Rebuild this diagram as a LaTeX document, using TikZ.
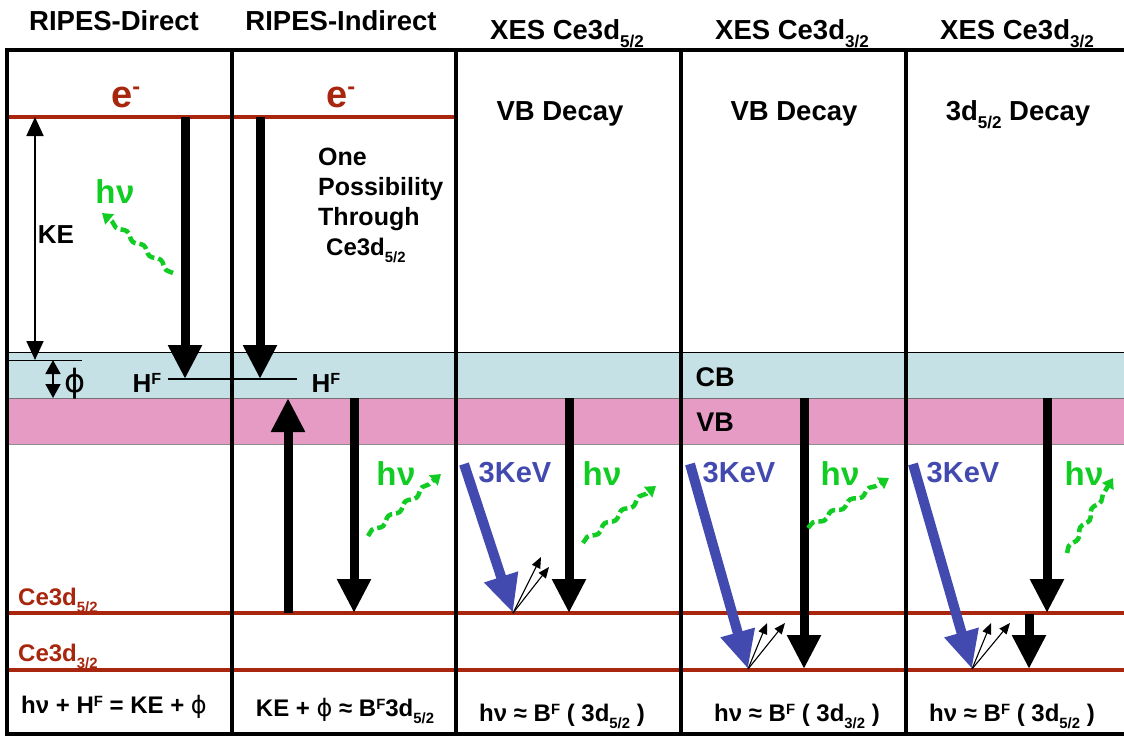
\documentclass[tikz,border=0pt]{standalone}
\usepackage{fontspec}
\setmainfont{Liberation Sans}
\newfontfamily\phifont{DejaVu Sans}
\usetikzlibrary{arrows.meta,decorations.pathmorphing}
\definecolor{lvred}{RGB}{168,38,14}
\definecolor{cbcol}{RGB}{197,225,230}
\definecolor{vbcol}{RGB}{230,155,196}
\definecolor{xblue}{RGB}{66,74,176}
\definecolor{phgreen}{RGB}{17,204,34}
\newcommand\supx[1]{\raisebox{0.27em}{\scalebox{0.62}{#1}}}
\newcommand\supe[1]{\raisebox{0.33em}{\scalebox{0.62}{#1}}}
\newcommand\subx[1]{\raisebox{-0.3em}{\scalebox{0.62}{#1}}}
\newcommand\fsz[1]{\fontsize{#1}{#1}\selectfont\bfseries}
\newcommand\phis{{\phifont\mdseries ϕ}}
\tikzset{
  txt/.style={inner sep=0pt, anchor=base, font=\fsz{26}},
  hdr/.style={txt, font=\fsz{27.5}},
  ghv/.style={txt, text=phgreen, font=\fsz{33}},
  kev/.style={txt, text=xblue, font=\fsz{29}},
  lvl/.style={lvred, line width=3.5pt},
  frame/.style={line width=4pt},
  bigarr/.style={line width=9pt, -{Triangle[length=34pt,width=32pt]}},
  bluearr/.style={xblue, line width=10pt, -{Triangle[length=38pt,width=33pt]}},
  thinarr/.style={line width=1.1pt, -{Triangle[length=11pt,width=9pt]}},
  wavy/.style={phgreen, line width=4.5pt, dash pattern=on 9pt off 4pt, decorate,
    decoration={snake, amplitude=2.2pt, segment length=22pt, post length=9pt},
    -{Triangle[length=10pt,width=13pt]}},
}
\begin{document}
\begin{tikzpicture}[x=1pt,y=-1pt]
\path[use as bounding box, clip] (0,0) rectangle (1124,736);
\fill[white] (0,0) rectangle (1124,736);
% bands
\fill[cbcol] (8,352) rectangle (1130,398);
\fill[vbcol] (8,398) rectangle (1130,444);
\draw[line width=0.8pt] (8,352) -- (1130,352);
\draw[line width=0.6pt, black!55] (8,398) -- (1130,398);
\draw[line width=0.6pt, black!45] (8,444) -- (1130,444);
% levels
\draw[lvl] (8,117) -- (456,117);
\draw[lvl] (8,613) -- (1130,613);
\draw[lvl] (8,670) -- (1130,670);
% frame
\draw[frame] (7,50) -- (1130,50);
\draw[frame] (7,734) -- (1130,734);
\draw[frame] (7,48) -- (7,736);
\foreach \xx in {231.5,456,681,906} \draw[frame] (\xx,50) -- (\xx,734);
% headers
\node[hdr] (h1) at (114,30) {RIPES-Direct};
\node[hdr] (h2) at (341,30) {RIPES-Indirect};
\node[hdr] (h3) at (567,39) {XES Ce3d\subx{5/2}};
\node[hdr] (h4) at (792,39) {XES Ce3d\subx{3/2}};
\node[hdr] (h5) at (1017,39) {XES Ce3d\subx{3/2}};
% e- labels
\node[txt, anchor=base west, text=lvred, font=\fsz{38}] (e1) at (111,107) {e\supe{-}};
\node[txt, anchor=base west, text=lvred, font=\fsz{38}] (e2) at (326,107) {e\supe{-}};
% column titles
\node[hdr] (t3) at (560,120) {VB Decay};
\node[hdr] (t4) at (794,120) {VB Decay};
\node[hdr] (t5) at (1018,120) {3d\subx{5/2} Decay};
% column 1
\node[txt] (ke) at (56,243) {KE};
\node[ghv] (g1) at (115,203) {h\kern0.5ptν};
\coordinate (keT) at (35,117);
\coordinate (keB) at (35,360);
\draw[line width=1.8pt, {Triangle[length=19pt,width=17pt]}-{Triangle[length=19pt,width=17pt]}] (keB) -- (keT);
\coordinate (fl1) at (8,360);
\coordinate (fl2) at (82,360);
\draw[line width=1pt] (fl1) -- (fl2);
\coordinate (phT) at (53,360);
\coordinate (phB) at (53,398);
\draw[line width=1.8pt, {Triangle[length=14pt,width=15pt]}-{Triangle[length=14pt,width=15pt]}] (phT) -- (phB);
\node[txt, font=\fontsize{32}{32}\selectfont] (phi) at (75,392) {\phis};
\node[txt] (hf1) at (147,392) {H\supx{F}};
\node[txt] (hf2) at (326,392) {H\supx{F}};
\coordinate (hfL) at (168,379);
\coordinate (hfR) at (297,379);
\draw[line width=1.2pt] (hfL) -- (hfR);
\coordinate (a1s) at (185,117);
\coordinate (a1e) at (185,379);
\draw[bigarr] (a1s) -- (a1e);
\coordinate (w1s) at (173,273);
\coordinate (w1e) at (102,213);
\draw[wavy] (w1s) -- (w1e);
\node[txt, anchor=base west, text=lvred, font=\fsz{24}] (c52) at (18,605) {Ce3d\subx{5/2}};
\node[txt, anchor=base west, text=lvred, font=\fsz{24}] (c32) at (18,661) {Ce3d\subx{3/2}};
\node[txt, font=\fsz{24}] (f1) at (114,713) {hν + H\supx{F} = KE + \phis};
% column 2
\coordinate (a2s) at (260,117);
\coordinate (a2e) at (260,379);
\draw[bigarr] (a2s) -- (a2e);
\node[txt, anchor=base west, font=\fsz{25}] (one) at (318,165) {One};
\node[txt, anchor=base west, font=\fsz{25}] (poss) at (318,195) {Possibility};
\node[txt, anchor=base west, font=\fsz{25}] (thr) at (318,225) {Through};
\node[txt, anchor=base west, font=\fsz{24}] (ce) at (326,255) {Ce3d\subx{5/2}};
\coordinate (u2s) at (288,613);
\coordinate (u2e) at (288,398);
\draw[bigarr] (u2s) -- (u2e);
\coordinate (d2s) at (354,398);
\coordinate (d2e) at (354,613);
\draw[bigarr] (d2s) -- (d2e);
\node[ghv] (g2) at (396,485) {h\kern0.5ptν};
\coordinate (w2s) at (368,536);
\coordinate (w2e) at (441,474);
\draw[wavy] (w2s) -- (w2e);
\node[txt, font=\fsz{24}] (f2) at (345,716) {KE + \phis\ ≈ B\supx{F}3d\subx{5/2}};
% CB VB labels
\node[txt, font=\fsz{27}] (cb) at (715,386) {CB};
\node[txt, font=\fsz{27}] (vb) at (715,431) {VB};
% column 3
\node[kev] (k3) at (515,482) {3KeV};
\node[ghv] (g3) at (602,485) {h\kern0.5ptν};
\coordinate (b3s) at (464,464);
\coordinate (b3e) at (513,613);
\draw[bluearr] (b3s) -- (b3e);
\coordinate (s3a) at (541,557);
\coordinate (s3b) at (549,567);
\draw[thinarr] (b3e) -- (s3a);
\draw[thinarr] (b3e) -- (s3b);
\coordinate (d3s) at (569,398);
\coordinate (d3e) at (569,613);
\draw[bigarr] (d3s) -- (d3e);
\coordinate (w3s) at (583,543);
\coordinate (w3e) at (656,486);
\draw[wavy] (w3s) -- (w3e);
\node[txt, font=\fsz{24}] (f3) at (562,721) {hν ≈ B\supx{F} ( 3d\subx{5/2} )};
% column 4
\node[kev] (k4) at (739,482) {3KeV};
\node[ghv] (g4) at (840,485) {h\kern0.5ptν};
\coordinate (b4s) at (690,464);
\coordinate (b4e) at (748,669);
\draw[bluearr] (b4s) -- (b4e);
\coordinate (s4a) at (767,623);
\coordinate (s4b) at (785,623);
\draw[thinarr] (b4e) -- (s4a);
\draw[thinarr] (b4e) -- (s4b);
\coordinate (d4s) at (804,398);
\coordinate (d4e) at (804,669);
\draw[bigarr] (d4s) -- (d4e);
\coordinate (w4s) at (808,528);
\coordinate (w4e) at (889,478);
\draw[wavy] (w4s) -- (w4e);
\node[txt, font=\fsz{24}] (f4) at (797,721) {hν ≈ B\supx{F} ( 3d\subx{3/2} )};
% column 5
\node[kev] (k5) at (963,482) {3KeV};
\node[ghv] (g5) at (1084,485) {h\kern0.5ptν};
\coordinate (b5s) at (913,464);
\coordinate (b5e) at (972,669);
\draw[bluearr] (b5s) -- (b5e);
\coordinate (s5a) at (991,623);
\coordinate (s5b) at (1010,623);
\draw[thinarr] (b5e) -- (s5a);
\draw[thinarr] (b5e) -- (s5b);
\coordinate (d5s) at (1047,398);
\coordinate (d5e) at (1047,613);
\draw[bigarr] (d5s) -- (d5e);
\coordinate (d6s) at (1029,614);
\coordinate (d6e) at (1029,669);
\draw[bigarr] (d6s) -- (d6e);
\coordinate (w5s) at (1067,553);
\coordinate (w5e) at (1113,478);
\draw[wavy] (w5s) -- (w5e);
\node[txt, font=\fsz{24}] (f5) at (1012,721) {hν ≈ B\supx{F} ( 3d\subx{5/2} )};
\end{tikzpicture}
\end{document}
